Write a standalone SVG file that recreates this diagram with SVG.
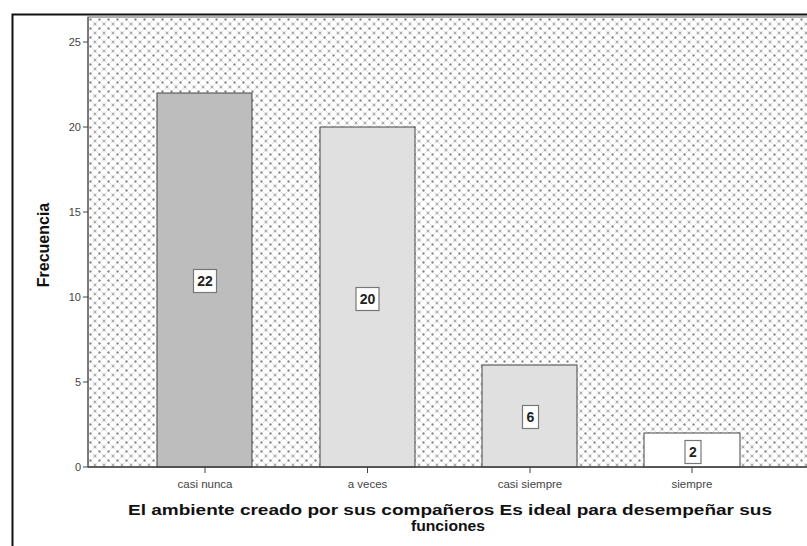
<svg xmlns="http://www.w3.org/2000/svg" width="807" height="546" viewBox="0 0 807 546">
<defs>
<pattern id="dots" x="88" y="17" width="9" height="9" patternUnits="userSpaceOnUse">
<rect width="9" height="9" fill="#ffffff"/>
<g stroke="#e2e2e2" stroke-width="1" fill="none">
<line x1="0" y1="0" x2="9" y2="9"/>
<line x1="0" y1="5" x2="5" y2="0"/>
<line x1="5" y1="9" x2="9" y2="5"/>
</g>
<g fill="#b0b0b0">
<rect x="1" y="2" width="3" height="1"/><rect x="2" y="1" width="1" height="3"/>
<rect x="5.5" y="6.5" width="3" height="1"/><rect x="6.5" y="5.5" width="1" height="3"/>
</g>
<g fill="#808080"><rect x="2" y="2" width="1" height="1"/><rect x="6.5" y="6.5" width="1" height="1"/></g>
</pattern>
<style>
.tick{stroke:#444;stroke-width:1}
.ylab{font-family:"Liberation Sans",Arial,sans-serif;font-size:11px;fill:#444;text-anchor:end}
.xlab{font-family:"Liberation Sans",Arial,sans-serif;font-size:11.5px;fill:#444;text-anchor:middle}
.bar{stroke:#444;stroke-width:1}
.vbox{fill:#fff;stroke:#777;stroke-width:1.2}
.vtxt{font-family:"Liberation Sans",Arial,sans-serif;font-size:14px;font-weight:bold;fill:#222;text-anchor:middle}
.title{font-family:"Liberation Sans",Arial,sans-serif;font-size:15px;font-weight:bold;fill:#111;text-anchor:middle}
</style>
</defs>
<rect width="807" height="546" fill="#fff"/>
<!-- outer frame -->
<path d="M12.5 560 V14.5 H820" fill="none" stroke="#111" stroke-width="2"/>
<!-- plot area -->
<rect x="88" y="17" width="730" height="450" fill="url(#dots)" stroke="#666" stroke-width="1"/>
<g id="y-axis">
<line x1="88" y1="17" x2="88" y2="467" stroke="#444"/>
<line class="tick" x1="83" y1="42" x2="88" y2="42"/>
<line class="tick" x1="83" y1="127" x2="88" y2="127"/>
<line class="tick" x1="83" y1="212" x2="88" y2="212"/>
<line class="tick" x1="83" y1="297" x2="88" y2="297"/>
<line class="tick" x1="83" y1="382" x2="88" y2="382"/>
<line class="tick" x1="83" y1="467" x2="88" y2="467"/>
<text class="ylab" x="81" y="46">25</text>
<text class="ylab" x="81" y="131">20</text>
<text class="ylab" x="81" y="216">15</text>
<text class="ylab" x="81" y="301">10</text>
<text class="ylab" x="81" y="386">5</text>
<text class="ylab" x="81" y="471">0</text>
<text x="49" y="245" transform="rotate(-90 49 245)" font-family="Liberation Sans,Arial,sans-serif" font-size="16" font-weight="bold" fill="#111" text-anchor="middle">Frecuencia</text>
</g>
<g id="bar-casi-nunca">
<rect class="bar" x="157" y="93" width="95" height="374" fill="#bdbdbd"/>
<rect class="vbox" x="193.5" y="269.5" width="23" height="23"/>
<text class="vtxt" x="205" y="286">22</text>
</g>
<g id="bar-a-veces">
<rect class="bar" x="320" y="127" width="95" height="340" fill="#e0e0e0"/>
<rect class="vbox" x="356" y="287.5" width="23" height="23"/>
<text class="vtxt" x="367.5" y="304">20</text>
</g>
<g id="bar-casi-siempre">
<rect class="bar" x="482" y="365" width="95" height="102" fill="#e0e0e0"/>
<rect class="vbox" x="522.5" y="405.5" width="16" height="23"/>
<text class="vtxt" x="530.5" y="422">6</text>
</g>
<g id="bar-siempre">
<rect class="bar" x="644" y="433" width="96" height="34" fill="#ffffff"/>
<rect class="vbox" x="685" y="440.5" width="16" height="23"/>
<text class="vtxt" x="693" y="457">2</text>
</g>
<g id="x-axis">
<line x1="88" y1="467" x2="818" y2="467" stroke="#444" stroke-width="1.5"/>
<line class="tick" x1="205" y1="467" x2="205" y2="473"/>
<line class="tick" x1="367.5" y1="467" x2="367.5" y2="473"/>
<line class="tick" x1="530" y1="467" x2="530" y2="473"/>
<line class="tick" x1="692" y1="467" x2="692" y2="473"/>
<text class="xlab" x="205" y="488">casi nunca</text>
<text class="xlab" x="367.5" y="488">a veces</text>
<text class="xlab" x="530" y="488">casi siempre</text>
<text class="xlab" x="692" y="488">siempre</text>
<text class="title" x="450" y="515" textLength="644" lengthAdjust="spacingAndGlyphs">El ambiente creado por sus compañeros Es ideal para desempeñar sus</text>
<text class="title" x="448" y="531" textLength="74" lengthAdjust="spacingAndGlyphs">funciones</text>
</g>
</svg>
